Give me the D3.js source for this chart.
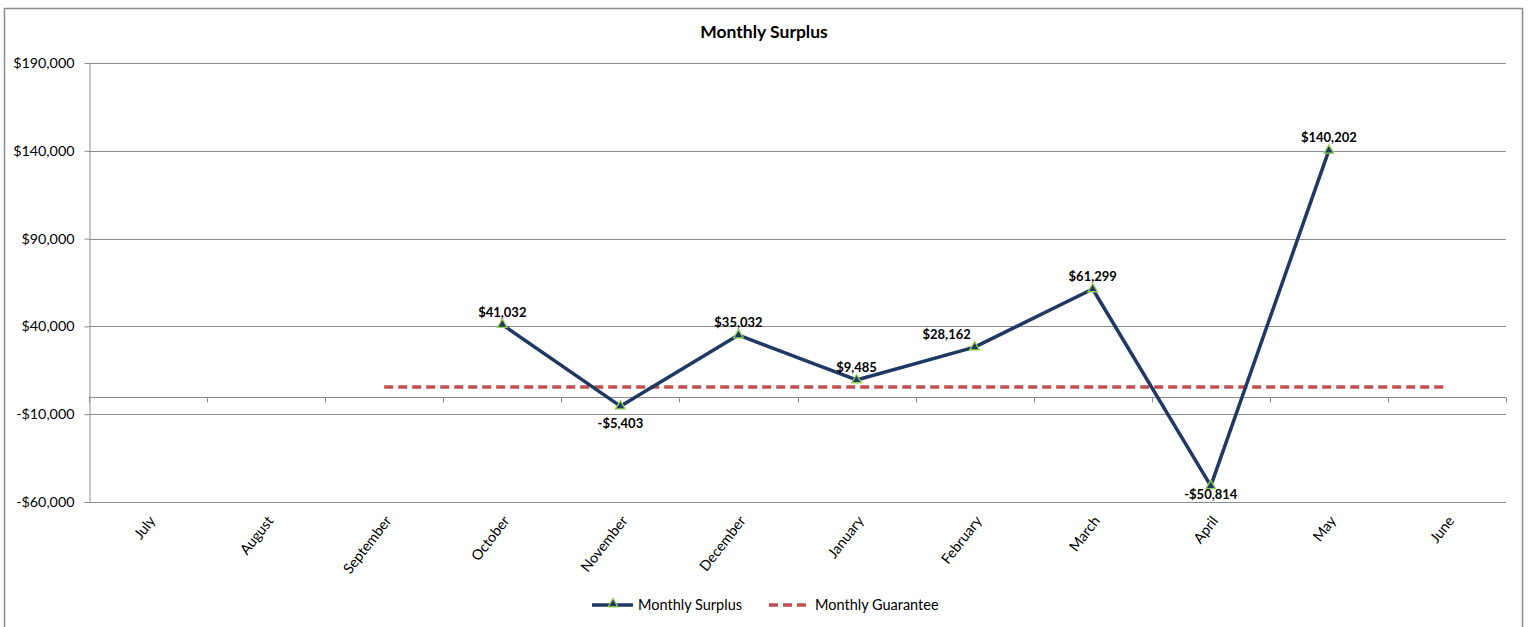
<!DOCTYPE html>
<html><head><meta charset="utf-8">
<script src="https://cdn.jsdelivr.net/npm/d3@7"></script>
<style>
body{margin:0;background:#fff;}
svg{display:block;font-family:Lato,"Open Sans",sans-serif;}
</style></head>
<body><svg id="c" width="1530" height="627"></svg>
<script>
const months = ["July","August","September","October","November","December","January","February","March","April","May","June"];
const surplus = [null,null,null,41032,-5403,35032,9485,28162,61299,-50814,140202,null];
const guarantee = [null,null,5500,5500,5500,5500,5500,5500,5500,5500,5500,5500];
const yTicks = [-60000,-10000,40000,90000,140000,190000];
const seriesNames = ["Monthly Surplus","Monthly Guarantee"];
const labelPos = ["","","","above","below","above","above","left","above","below","above",""];

const svg = d3.select("#c");
const m = {l:89, r:1506, t:63, b:502};
svg.append("rect").attr("x",4.5).attr("y",8.5).attr("width",1518).attr("height",640)
  .attr("fill","#fff").attr("stroke","#8c8c8c").attr("stroke-width",1.5);

const x = d3.scaleBand().domain(months).range([m.l,m.r]);
const y = d3.scaleLinear().domain([-60000,190000]).range([m.b,m.t]);
const fmt = v => (v<0?"-$":"$")+d3.format(",")(Math.abs(v));

// gridlines
svg.append("g").selectAll("line").data(yTicks).join("line")
  .attr("x1",m.l).attr("x2",m.r).attr("y1",d=>Math.round(y(d))+0.5).attr("y2",d=>Math.round(y(d))+0.5)
  .attr("stroke","#8c8c8c").attr("stroke-width",1);

// y axis
const ya = svg.append("g").attr("transform",`translate(${m.l+0.5},0)`)
  .call(d3.axisLeft(y).tickValues(yTicks).tickFormat(fmt).tickSize(5).tickSizeOuter(0));
ya.select(".domain").attr("stroke","#8c8c8c");
ya.selectAll(".tick line").attr("stroke","#8c8c8c");
ya.selectAll(".tick text").attr("font-size","14.3px").attr("fill","#000").attr("x",-15).attr("font-family","Lato");

// x axis at zero
const y0 = Math.round(y(0))+0.5;
svg.append("line").attr("x1",m.l).attr("x2",m.r).attr("y1",y0).attr("y2",y0).attr("stroke","#8c8c8c");
const bounds = d3.range(months.length+1).map(i=>m.l+i*x.bandwidth());
svg.append("g").selectAll("line").data(bounds).join("line")
  .attr("x1",d=>Math.round(d)+0.5).attr("x2",d=>Math.round(d)+0.5).attr("y1",y0).attr("y2",y0+5).attr("stroke","#8c8c8c");
svg.append("g").selectAll("text").data(months).join("text")
  .attr("transform",d=>`translate(${x(d)+x.bandwidth()/2+8},${m.b+19}) rotate(-52)`)
  .attr("text-anchor","end").attr("font-size","14.3px").attr("fill","#000").text(d=>d);

// guarantee line
const gData = months.map((mo,i)=>({mo,v:guarantee[i]}));
svg.append("path").datum(gData)
  .attr("d",d3.line().defined(d=>d.v!==null).x(d=>x(d.mo)+x.bandwidth()/2).y(d=>y(d.v)))
  .attr("fill","none").attr("stroke","#C0504D").attr("stroke-width",3.5).attr("stroke-dasharray","9,5");

// surplus line
const sData = months.map((mo,i)=>({mo,v:surplus[i],pos:labelPos[i]}));
svg.append("path").datum(sData)
  .attr("d",d3.line().defined(d=>d.v!==null).x(d=>x(d.mo)+x.bandwidth()/2).y(d=>y(d.v)))
  .attr("fill","none").attr("stroke","#1F3864").attr("stroke-width",3.5).attr("stroke-linejoin","round");
const tri = d3.symbol().type(d3.symbolTriangle).size(40);
const pts = sData.filter(d=>d.v!==null);
svg.append("g").selectAll("path").data(pts).join("path")
  .attr("d",tri).attr("transform",d=>`translate(${x(d.mo)+x.bandwidth()/2},${y(d.v)})`)
  .attr("fill","#1F3864").attr("stroke","#92D050").attr("stroke-width",1.3);
svg.append("g").selectAll("text").data(pts).join("text")
  .attr("x",d=>x(d.mo)+x.bandwidth()/2+(d.pos==="left"?-28:0))
  .attr("y",d=>d.pos==="below"?Math.min(y(d.v)+22,m.b-3):y(d.v)-8)
  .attr("text-anchor","middle").attr("font-size","13px").attr("font-weight","bold").attr("fill","#000")
  .text(d=>fmt(d.v));

// title
svg.append("text").attr("x",764).attr("y",38).attr("text-anchor","middle")
  .attr("font-size","17.5px").attr("font-weight","bold").text("Monthly Surplus");

// legend
const lg = svg.append("g");
lg.append("line").attr("x1",592).attr("x2",633).attr("y1",605).attr("y2",605).attr("stroke","#1F3864").attr("stroke-width",3.5);
lg.append("path").attr("d",tri).attr("transform","translate(613,604)").attr("fill","#1F3864").attr("stroke","#92D050").attr("stroke-width",1.3);
lg.append("text").attr("x",638).attr("y",610).attr("font-size","14.5px").text(seriesNames[0]);
lg.append("line").attr("x1",769).attr("x2",808).attr("y1",605).attr("y2",605).attr("stroke","#C0504D").attr("stroke-width",3.5).attr("stroke-dasharray","9,5");
lg.append("text").attr("x",815).attr("y",610).attr("font-size","14.5px").text(seriesNames[1]);
</script></body></html>
